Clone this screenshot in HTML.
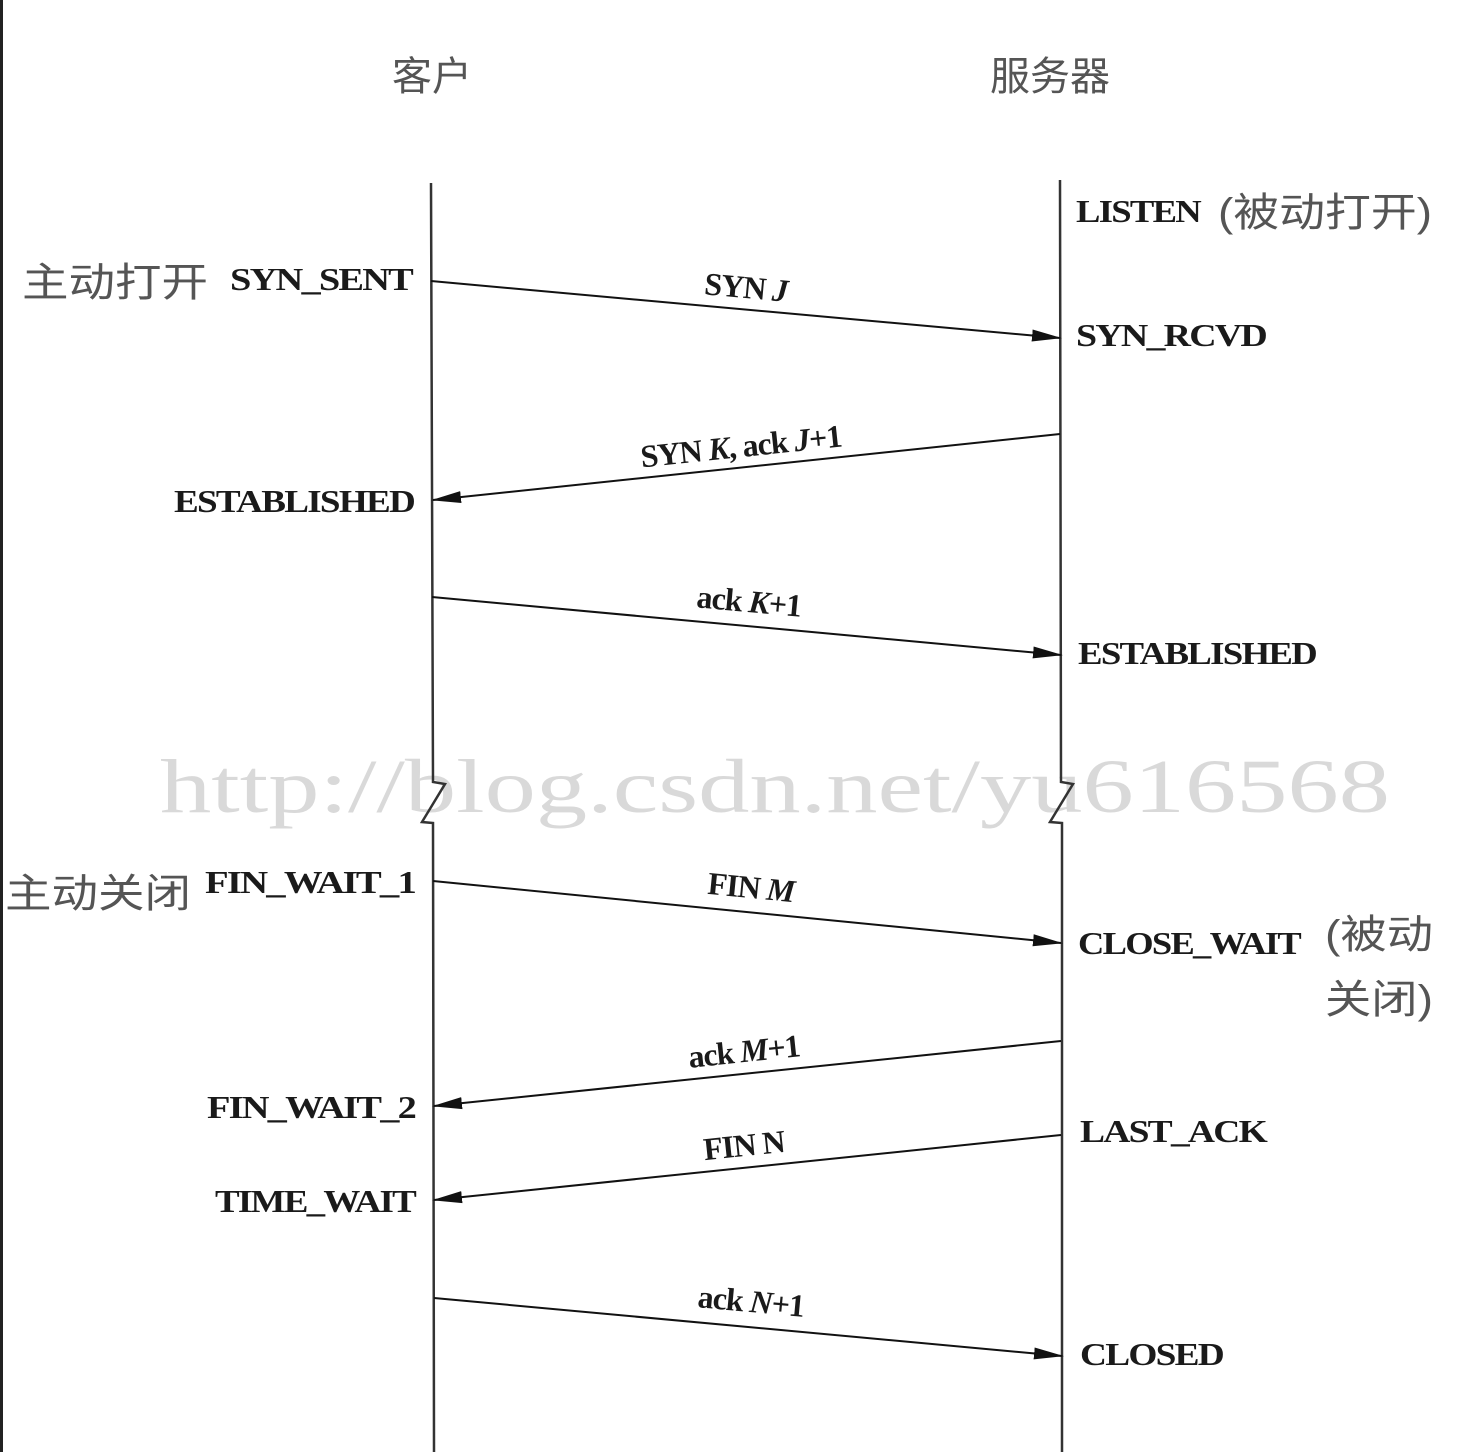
<!DOCTYPE html>
<html><head><meta charset="utf-8"><style>
html,body{margin:0;padding:0;background:#fff;}
svg{display:block;}
.s{font-family:"Liberation Serif",serif;font-weight:bold;font-size:32px;fill:#1a1a1a;letter-spacing:-1.5px;}
.c{font-family:"Liberation Sans","Noto Sans CJK SC",sans-serif;font-size:40px;fill:#555;}
.l{font-family:"Liberation Serif",serif;font-weight:bold;font-size:32px;fill:#1a1a1a;letter-spacing:-1px;}
</style></head><body>
<svg width="1464" height="1452" viewBox="0 0 1464 1452" xmlns="http://www.w3.org/2000/svg">
<defs><marker id="a" markerWidth="30" markerHeight="14" refX="28" refY="7" orient="auto" markerUnits="userSpaceOnUse"><path d="M0,1 L30,7 L0,13 z" fill="#111"/></marker></defs>
<rect x="0" y="0" width="3" height="1452" fill="#222"/>
<text x="775" y="812" font-family="Liberation Serif,serif" font-size="76" fill="#d9d9d9" text-anchor="middle" textLength="1230" lengthAdjust="spacingAndGlyphs">http://blog.csdn.net/yu616568</text>
<g stroke="#333" stroke-width="2.5" fill="none">
<polyline points="431,183 433,782 445,784 422,822 433,823 434,1452"/>
<polyline points="1060,180 1061,782 1073,784 1050,822 1062,823 1062,1452"/>
</g>
<g stroke="#111" stroke-width="2" marker-end="url(#a)">
<line x1="431" y1="281" x2="1060" y2="338"/>
<line x1="1060" y1="434" x2="433" y2="500"/>
<line x1="432" y1="597" x2="1061" y2="655"/>
<line x1="433" y1="881" x2="1061" y2="943"/>
<line x1="1061" y1="1041" x2="434" y2="1106"/>
<line x1="1061" y1="1135" x2="434" y2="1200"/>
<line x1="434" y1="1298" x2="1062" y2="1356"/>
</g>
<text class="c" x="432" y="90" text-anchor="middle">客户</text>
<text class="c" x="1050" y="90" text-anchor="middle">服务器</text>
<text class="s" x="1076" y="222" textLength="124" lengthAdjust="spacingAndGlyphs">LISTEN</text>
<text class="c" x="1218" y="226" textLength="214" lengthAdjust="spacingAndGlyphs">(被动打开)</text>
<text class="c" x="22" y="296" textLength="186" lengthAdjust="spacingAndGlyphs">主动打开</text>
<text class="s" x="230" y="290" textLength="182" lengthAdjust="spacingAndGlyphs">SYN_SENT</text>
<text class="s" x="1076" y="346" textLength="190" lengthAdjust="spacingAndGlyphs">SYN_RCVD</text>
<text class="s" x="174" y="512" textLength="240" lengthAdjust="spacingAndGlyphs">ESTABLISHED</text>
<text class="s" x="1078" y="664" textLength="238" lengthAdjust="spacingAndGlyphs">ESTABLISHED</text>
<text class="c" x="5" y="907" textLength="186" lengthAdjust="spacingAndGlyphs">主动关闭</text>
<text class="s" x="205" y="893" textLength="210" lengthAdjust="spacingAndGlyphs">FIN_WAIT_1</text>
<text class="s" x="1078" y="954" textLength="222" lengthAdjust="spacingAndGlyphs">CLOSE_WAIT</text>
<text class="c" x="1325" y="948" textLength="108" lengthAdjust="spacingAndGlyphs">(被动</text>
<text class="c" x="1325" y="1013" textLength="108" lengthAdjust="spacingAndGlyphs">关闭)</text>
<text class="s" x="207" y="1118" textLength="208" lengthAdjust="spacingAndGlyphs">FIN_WAIT_2</text>
<text class="s" x="1080" y="1142" textLength="186" lengthAdjust="spacingAndGlyphs">LAST_ACK</text>
<text class="s" x="215" y="1212" textLength="200" lengthAdjust="spacingAndGlyphs">TIME_WAIT</text>
<text class="s" x="1080" y="1365" textLength="143" lengthAdjust="spacingAndGlyphs">CLOSED</text>
<text class="l" transform="translate(745,298) rotate(5.2)" text-anchor="middle">SYN <tspan font-style="italic">J</tspan></text>
<text class="l" transform="translate(742,457) rotate(-6)" text-anchor="middle">SYN <tspan font-style="italic">K</tspan>, ack <tspan font-style="italic">J</tspan>+1</text>
<text class="l" transform="translate(748,612) rotate(5.2)" text-anchor="middle">ack <tspan font-style="italic">K</tspan>+1</text>
<text class="l" transform="translate(750,898) rotate(5.6)" text-anchor="middle">FIN <tspan font-style="italic">M</tspan></text>
<text class="l" transform="translate(745,1062) rotate(-6)" text-anchor="middle">ack <tspan font-style="italic">M</tspan>+1</text>
<text class="l" transform="translate(745,1156) rotate(-6)" text-anchor="middle">FIN N</text>
<text class="l" transform="translate(750,1312) rotate(5.2)" text-anchor="middle">ack <tspan font-style="italic">N</tspan>+1</text>
</svg>
</body></html>
